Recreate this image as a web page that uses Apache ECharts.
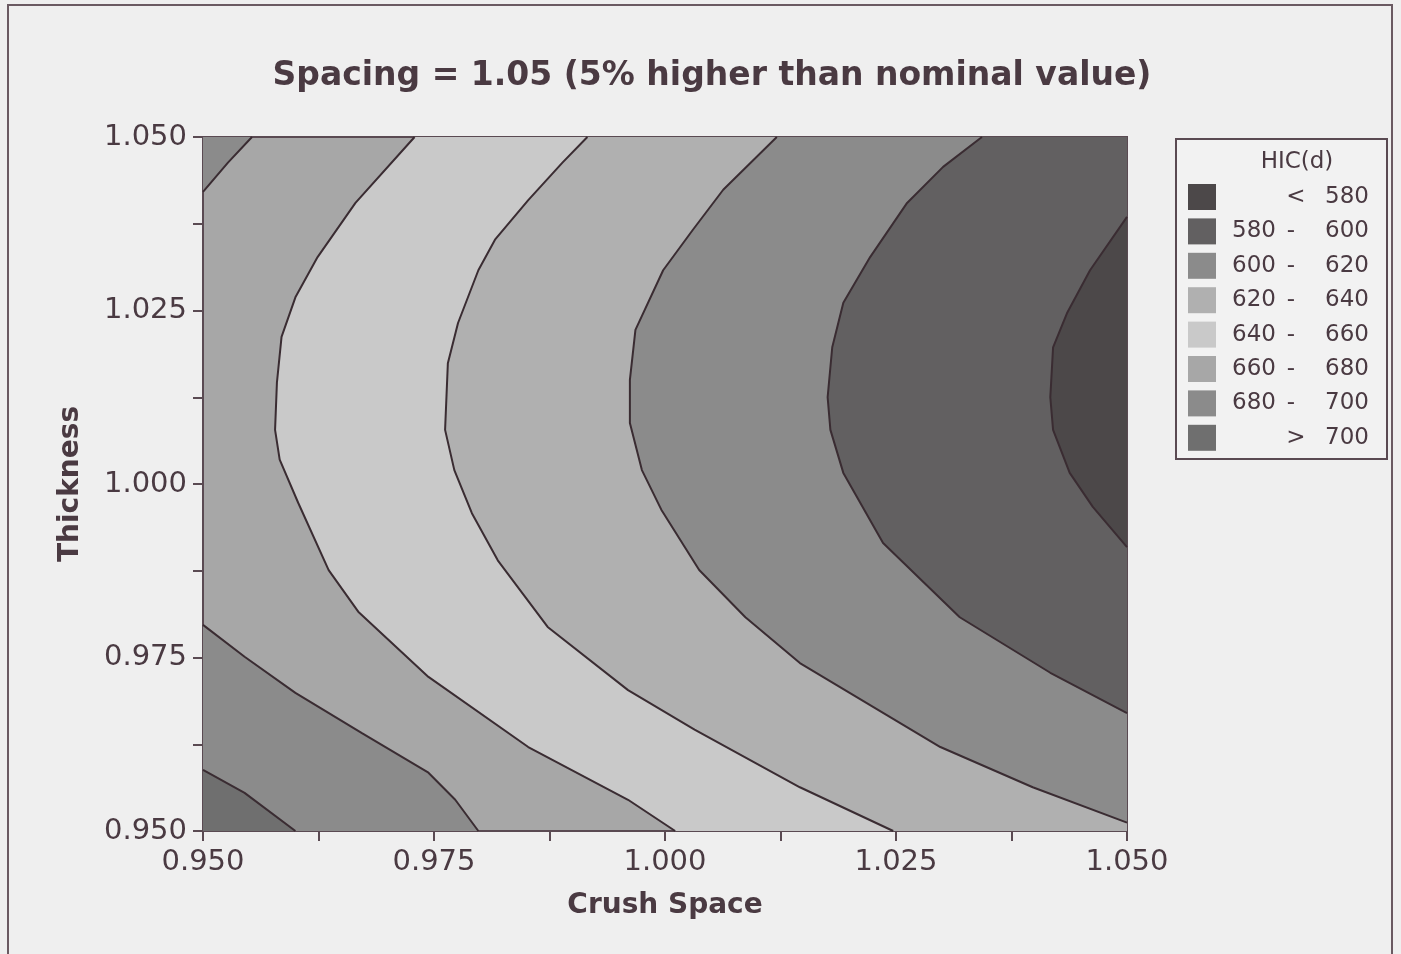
<!DOCTYPE html>
<html>
<head>
<meta charset="utf-8">
<script src="https://cdn.jsdelivr.net/npm/echarts@6/dist/echarts.min.js"></script>
<style>
  body { margin: 0; background: #efefef; }
  #main { width: 1401px; height: 954px; }
</style>
</head>
<body>
<div id="main"></div>
<script>
// contour lines, [Crush Space, Thickness]
const hic580 = [[1.05, 1.0385], [1.046, 1.0308], [1.0435, 1.0246], [1.042, 1.0197], [1.0417, 1.0125],
  [1.042, 1.0078], [1.0438, 1.0016], [1.0463, 0.9967], [1.05, 0.9909]]
const hic600 = [[1.0343, 1.05], [1.0301, 1.0457], [1.0262, 1.0405], [1.0222, 1.0327], [1.0193, 1.0261],
  [1.0181, 1.0197], [1.0176, 1.0125], [1.0179, 1.0078], [1.0193, 1.0016], [1.0236, 0.9915],
  [1.0319, 0.9808], [1.0417, 0.9728], [1.05, 0.967]]
const hic620 = [[1.0121, 1.05], [1.0063, 1.0424], [1.003, 1.0366], [0.9998, 1.0308], [0.9968, 1.0222],
  [0.9962, 1.015], [0.9962, 1.0088], [0.9975, 1.002], [0.9996, 0.9963], [1.0037, 0.9876],
  [1.0087, 0.9808], [1.0146, 0.9742], [1.0298, 0.9621], [1.0398, 0.9563], [1.05, 0.9512]]
const hic640 = [[0.9916, 1.05], [0.9889, 1.0463], [0.9852, 1.0409], [0.9816, 1.0352], [0.9798, 1.0308],
  [0.9776, 1.0232], [0.9765, 1.0174], [0.9762, 1.0078], [0.9772, 1.002], [0.9791, 0.9958],
  [0.9819, 0.989], [0.9873, 0.9794], [0.996, 0.9703], [1.0032, 0.9646], [1.0146, 0.9563], [1.0247, 0.95]]
const hic660 = [[0.9729, 1.05], [0.9665, 1.0405], [0.9624, 1.0327], [0.96, 1.0269], [0.9585, 1.0212],
  [0.958, 1.0146], [0.9578, 1.0078], [0.9583, 1.0035], [0.9603, 0.9973], [0.9636, 0.9876],
  [0.9668, 0.9816], [0.9744, 0.9722], [0.9852, 0.9621], [0.996, 0.9545], [1.0011, 0.95]]
const hic680top = [[0.9553, 1.05], [0.9527, 1.0463], [0.95, 1.0421]]
const hic680bot = [[0.95, 0.9797], [0.9545, 0.9751], [0.96, 0.9699], [0.9672, 0.9641], [0.9744, 0.9584],
  [0.9773, 0.9545], [0.9798, 0.95]]
const hic700 = [[0.95, 0.9588], [0.9545, 0.9555], [0.96, 0.95]]

// legend classes
const legendLow = ['', '580', '600', '620', '640', '660', '680', '']
const legendSign = ['<', '-', '-', '-', '-', '-', '-', '>']
const legendHigh = ['580', '600', '620', '640', '660', '680', '700', '700']
const shades = ['#4c4849', '#626061', '#8b8b8b', '#b0b0b0', '#c9c9c9', '#a7a7a7', '#8b8b8b', '#6f6f6f']

const xMin = 0.95, xMax = 1.05, yMin = 0.95, yMax = 1.05
const textColor = '#4a3a42'
const axisColor = '#5a4a52'

const TR = [xMax, yMax], BR = [xMax, yMin], TL = [xMin, yMax], BL = [xMin, yMin]
let regions = [
  { pts: hic660.concat([BR, TR]), color: shades[4] },
  { pts: hic640.concat([BR, TR]), color: shades[3] },
  { pts: hic620.concat([TR]), color: shades[2] },
  { pts: hic600.concat([TR]), color: shades[1] },
  { pts: hic580, color: shades[0] },
  { pts: hic680top.concat([TL]), color: shades[6] },
  { pts: hic680bot.concat([BL]), color: shades[6] },
  { pts: hic700.concat([BL]), color: shades[7] },
]
let contours = [hic580, hic600, hic620, hic640, hic660, hic680top, hic680bot, hic700]

var myChart = echarts.init(document.getElementById('main'))

// legend box drawn by hand
let legFont = '23px "DejaVu Sans"'
let legendItems = [
  { type: 'rect', shape: { x: 1176, y: 139, width: 211, height: 320 }, style: { fill: '#f2f2f2', stroke: axisColor, lineWidth: 2 } },
  { type: 'text', x: 1297, y: 162, style: { text: 'HIC(d)', font: legFont, fill: textColor, textAlign: 'center', textVerticalAlign: 'middle' } },
]
for (let i = 0; i < legendHigh.length; i++) {
  let cy = 197 + i * 34.4
  legendItems.push({ type: 'rect', shape: { x: 1188, y: cy - 13, width: 28, height: 26 }, style: { fill: shades[i] } })
  legendItems.push({ type: 'text', x: 1276, y: cy, style: { text: legendLow[i], font: legFont, fill: textColor, textAlign: 'right', textVerticalAlign: 'middle' } })
  legendItems.push({ type: 'text', x: i === 0 || i === 7 ? 1296 : 1291, y: cy, style: { text: legendSign[i], font: legFont, fill: textColor, textAlign: 'center', textVerticalAlign: 'middle' } })
  legendItems.push({ type: 'text', x: 1369, y: cy, style: { text: legendHigh[i], font: legFont, fill: textColor, textAlign: 'right', textVerticalAlign: 'middle' } })
}

let axisCommon = {
  type: 'value',
  axisLine: { show: true, lineStyle: { color: axisColor, width: 2 } },
  axisTick: { show: true, length: 10, lineStyle: { color: axisColor, width: 2 } },
  minorTick: { show: true, splitNumber: 2, length: 10, lineStyle: { color: axisColor, width: 2 } },
  splitLine: { show: false },
  minorSplitLine: { show: false },
  nameLocation: 'middle',
  nameTextStyle: { color: textColor, fontFamily: 'DejaVu Sans', fontWeight: 'bold', fontSize: 28 },
}

let option = {
  backgroundColor: '#efefef',
  animation: false,
  grid: {
    left: 203, top: 137, width: 924, height: 694,
    show: true, borderColor: axisColor, borderWidth: 2, backgroundColor: shades[5],
  },
  xAxis: Object.assign({}, axisCommon, {
    min: xMin, max: xMax, interval: 0.025,
    name: 'Crush Space', nameGap: 61,
    axisLabel: { formatter: (v) => v.toFixed(3), color: textColor, fontFamily: 'DejaVu Sans', fontSize: 29, margin: 17 },
  }),
  yAxis: Object.assign({}, axisCommon, {
    min: yMin, max: yMax, interval: 0.025,
    name: 'Thickness', nameGap: 118,
    axisLabel: { formatter: (v) => v.toFixed(3), color: textColor, fontFamily: 'DejaVu Sans', fontSize: 29, margin: 16 },
  }),
  graphic: [
    { type: 'rect', shape: { x: 8, y: 5, width: 1384, height: 970 }, style: { fill: 'none', stroke: '#6a5a62', lineWidth: 2 } },
    { type: 'text', x: 712, y: 76, style: { text: 'Spacing = 1.05 (5% higher than nominal value)', font: 'bold 33px "DejaVu Sans"', fill: textColor, textAlign: 'center', textVerticalAlign: 'middle' } },
  ].concat(legendItems),
  series: [
    {
      type: 'custom',
      clip: true,
      z: 1,
      data: regions.map((r) => r.pts[0]),
      renderItem: function (params, api) {
        let r = regions[params.dataIndex]
        return {
          type: 'polygon',
          shape: { points: r.pts.map((p) => api.coord(p)) },
          style: { fill: r.color, stroke: null },
        }
      },
    },
  ].concat(
    contours.map((c) => ({
      type: 'line',
      data: c,
      symbol: 'none',
      z: 3,
      lineStyle: { color: '#3a2c32', width: 2 },
    }))
  ),
}
myChart.setOption(option)
</script>
</body>
</html>
